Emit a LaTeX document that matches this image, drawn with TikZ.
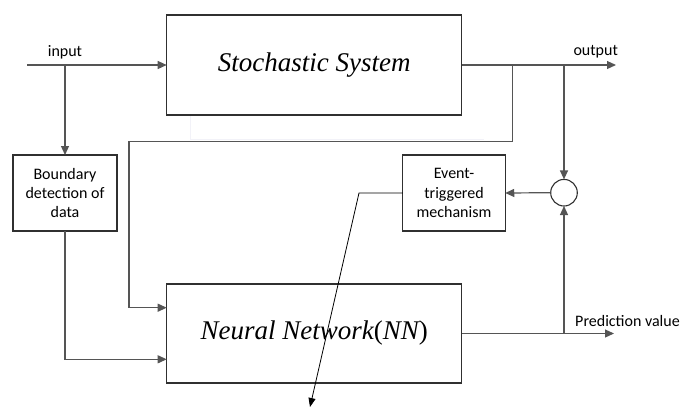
\documentclass[tikz,border=0pt]{standalone}
\usepackage{fontspec}
\setmainfont{Carlito}
\newfontfamily\tms{Liberation Serif}
\usetikzlibrary{arrows.meta,shapes.geometric}
\definecolor{ln}{HTML}{555555}
\definecolor{bx}{HTML}{303030}
\definecolor{faint}{RGB}{242,242,248}
\begin{document}
\begin{tikzpicture}[x=1pt,y=-1pt,
  wire/.style={draw=ln,line width=1.2pt},
  arr/.style={-{Triangle[length=9pt,width=8pt]}},
  bigbox/.style={draw=bx,line width=1.2pt,fill=white,inner sep=0pt,outer sep=0pt,
    minimum width=295pt,font=\tms\fontsize{27}{30}\selectfont\itshape},
  smallbox/.style={draw=bx,line width=1.1pt,fill=white,inner sep=0pt,outer sep=0pt,
    align=center,font=\fontsize{16}{19.3}\selectfont},
  lbl/.style={font=\fontsize{16}{19}\selectfont,inner sep=0pt}]
\useasboundingbox (0,0) rectangle (681,408);
% faint artifact
\draw[faint,line width=0.8pt] (190,115) -- (190,139.3) -- (484,139.3);
% nodes
\node[bigbox,minimum height=100pt] (ss) at (314.2,65) {Stochastic System};
\node[bigbox,minimum height=99pt] (nn) at (314.2,333.5) {Neural Network{\upshape(}NN{\upshape)}};
\node[smallbox,minimum width=104pt,minimum height=76pt] (bd) at (65,193) {Boundary\\detection of\\data};
\node[smallbox,minimum width=102.5pt,minimum height=76pt] (et) at (454,193) {Event-\\triggered\\mechanism};
\node[circle,draw=bx,line width=1.1pt,fill=white,minimum size=26.6pt,inner sep=0pt,outer sep=0pt] (cir) at (564,192.7) {};
% coordinates
\coordinate (in) at (27,65);
\coordinate (inb) at (65,65);
\coordinate (ob1) at (512.7,65);
\coordinate (ob2) at (564,65);
\coordinate (out) at (616,65);
\coordinate (pv) at (614,333.5);
\coordinate (pvb) at (564,333.5);
\coordinate (k) at (359,193);
\coordinate (tip) at (310,407);
% connectors
\draw[wire,arr] (in) -- (ss.west);
\draw[wire,arr] (inb) -- (bd.north);
\draw[wire,arr] (bd.south) |- ([yshift=-25.8pt]nn.west);
\draw[wire,arr] (ob1) -- (512.7,141.7) -- (129,141.7) |- ([yshift=25.8pt]nn.west);
\draw[wire,arr] (ss.east) -- (out);
\draw[wire,arr] (ob2) -- (cir.north);
\draw[wire,arr] (cir.west) -- (et.east);
\draw[wire,arr] (nn.east) -- (pv);
\draw[wire,arr] (pvb) -- (cir.south);
\draw[black,line width=0.8pt,-{Triangle[length=9pt,width=7pt]}] (et.west) -- (k) -- (tip);
% labels
\node[lbl] (linput) at (65,52) {input};
\node[lbl] (loutput) at (595.7,52) {output};
\node[lbl] (lpred) at (627.5,321) {Prediction value};
\end{tikzpicture}
\end{document}
